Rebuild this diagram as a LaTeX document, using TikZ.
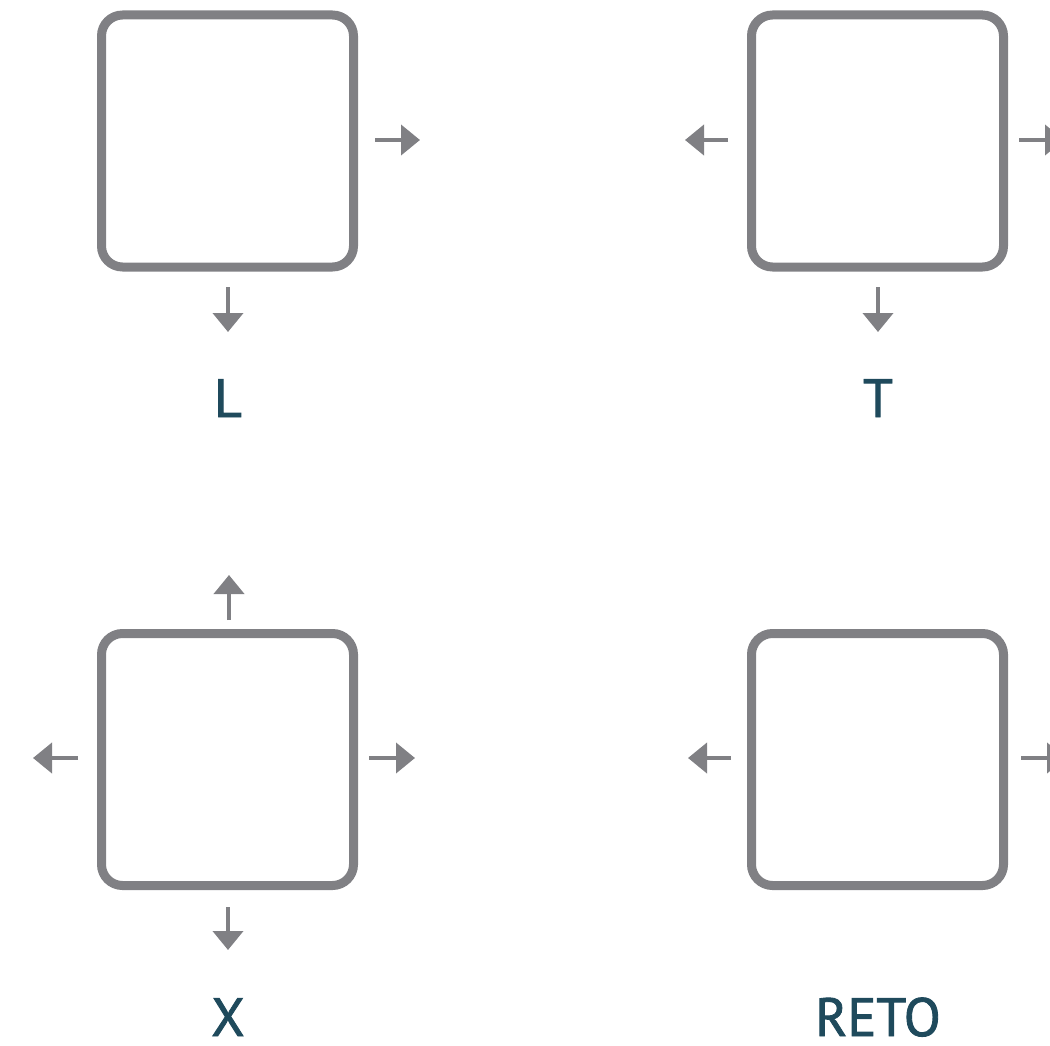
\documentclass[tikz,border=0pt]{standalone}
\usepackage{fontspec}
\setmainfont{PT Sans}
\newfontfamily\labfont[FakeBold=1.6]{PT Sans}
\usetikzlibrary{arrows.meta}
\definecolor{boxgray}{HTML}{808084}
\definecolor{labteal}{HTML}{1F4A5C}
\begin{document}
\begin{tikzpicture}[x=1pt,y=-1pt,
  box/.style={draw=boxgray,line width=9pt,rounded corners=21pt,minimum width=252pt,minimum height=252pt,inner sep=0pt},
  arr/.style={draw=boxgray,line width=4pt,-{Triangle[length=19pt,width=30pt]}},
  lab/.style={text=labteal,font=\labfont\fontsize{54}{60}\selectfont,anchor=base,inner sep=0pt}]
\useasboundingbox (0,0) rectangle (1050,1046);
\clip (0,0) rectangle (1050,1046);
% boxes
\node[box] (b1) at (227.5,141) {};
\node[box] (b2) at (877.5,141) {};
\node[box] (b3) at (227.5,759.5) {};
\node[box] (b4) at (877.5,759.5) {};
% arrow coordinates
\coordinate (b1rs) at (375,140); \coordinate (b1re) at (420,140);
\coordinate (b1ds) at (228,287); \coordinate (b1de) at (228,332);
\coordinate (b2ls) at (728,140); \coordinate (b2le) at (685,140);
\coordinate (b2rs) at (1019,140); \coordinate (b2re) at (1064,140);
\coordinate (b2ds) at (878,287); \coordinate (b2de) at (878,332);
\coordinate (b3us) at (229,620); \coordinate (b3ue) at (229,575);
\coordinate (b3ls) at (78,758); \coordinate (b3le) at (33,758);
\coordinate (b3rs) at (369,758); \coordinate (b3re) at (415,758);
\coordinate (b3ds) at (228,907); \coordinate (b3de) at (228,950);
\coordinate (b4ls) at (731,758); \coordinate (b4le) at (688,758);
\coordinate (b4rs) at (1021,758); \coordinate (b4re) at (1066,758);
% arrows
\draw[arr] (b1rs) -- (b1re);
\draw[arr] (b1ds) -- (b1de);
\draw[arr] (b2ls) -- (b2le);
\draw[arr] (b2rs) -- (b2re);
\draw[arr] (b2ds) -- (b2de);
\draw[arr] (b3us) -- (b3ue);
\draw[arr] (b3ls) -- (b3le);
\draw[arr] (b3rs) -- (b3re);
\draw[arr] (b3ds) -- (b3de);
\draw[arr] (b4ls) -- (b4le);
\draw[arr] (b4rs) -- (b4re);
% labels
\node[lab] (lL) at (228,417) {L};
\node[lab] (lT) at (878,417) {T};
\node[lab] (lX) at (228,1036) {X};
\node[lab] (lR) at (878,1036) {RETO};
\end{tikzpicture}
\end{document}
